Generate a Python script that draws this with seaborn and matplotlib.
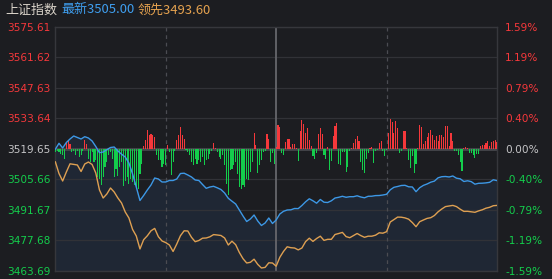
import matplotlib
matplotlib.use("Agg")
import matplotlib.pyplot as plt
import pandas as pd
import seaborn as sns

# ---------------- data ----------------
index_name = "上证指数"
prev_close = 3519.65
price_ticks = [3575.61, 3561.62, 3547.63, 3533.64, 3519.65, 3505.66, 3491.67, 3477.68, 3463.69]
price_labels = ["3575.61", "3561.62", "3547.63", "3533.64", "3519.65", "3505.66", "3491.67", "3477.68", "3463.69"]
pct_labels = ["1.59%", "1.19%", "0.79%", "0.40%", "0.00%", "-0.40%", "-0.79%", "-1.19%", "-1.59%"]

# minute of session (0 = 9:30, 120 = 11:30/13:00, 240 = 15:00), sampled every 2 minutes
line_minutes = list(range(0, 241, 2))

latest = [
    3519.40, 3522.15, 3520.00, 3522.52, 3524.13, 3525.51, 3524.82, 3524.13, 3525.19, 3524.59,
    3523.21, 3520.68, 3517.83, 3518.16, 3519.21, 3520.22, 3520.45, 3518.62, 3517.15, 3515.86,
    3513.10, 3508.05, 3502.07, 3495.87, 3498.16, 3500.69, 3502.99, 3506.21, 3505.75, 3504.37,
    3504.37, 3505.06, 3505.06, 3505.75, 3508.27, 3508.41, 3507.59, 3506.67, 3505.29, 3505.06,
    3503.22, 3501.47, 3502.07, 3502.39, 3501.70, 3500.92, 3499.31, 3496.88, 3495.54, 3494.26,
    3491.50, 3488.74, 3486.21, 3487.36, 3489.20, 3486.44, 3484.38, 3485.52, 3487.82, 3485.29,
    3486.90, 3489.66, 3490.90, 3491.50, 3491.59, 3492.19, 3492.14, 3493.57, 3495.27, 3496.65,
    3495.73, 3494.62, 3496.33, 3495.08, 3494.95, 3495.73, 3497.01, 3497.34, 3497.80, 3497.34,
    3497.61, 3497.61, 3498.03, 3497.47, 3497.11, 3497.80, 3497.84, 3498.12, 3498.16, 3498.39,
    3498.72, 3500.78, 3501.93, 3502.30, 3502.76, 3502.85, 3502.16, 3502.07, 3499.91, 3501.75,
    3502.81, 3503.45, 3504.28, 3504.78, 3506.30, 3506.80, 3506.90, 3506.67, 3507.13, 3506.11,
    3505.84, 3504.60, 3504.92, 3504.55, 3503.36, 3503.77, 3503.82, 3503.96, 3504.23, 3505.38,
    3505.00,
]

leading = [
    3513.70, 3508.27, 3504.83, 3508.96, 3512.73, 3512.46, 3512.18, 3509.19, 3512.64, 3513.56,
    3512.41, 3508.50, 3500.69, 3497.01, 3498.85, 3501.61, 3499.77, 3497.01, 3494.72, 3490.58,
    3487.82, 3482.54, 3479.55, 3473.58, 3477.85, 3479.64, 3481.94, 3483.04, 3479.23, 3477.25,
    3476.52, 3475.41, 3472.43, 3475.87, 3479.69, 3481.94, 3481.85, 3478.95, 3476.93, 3477.48,
    3478.54, 3478.63, 3479.18, 3480.19, 3480.01, 3479.78, 3478.63, 3475.41, 3477.16, 3475.55,
    3471.97, 3469.12, 3467.14, 3467.46, 3468.89, 3466.50, 3464.84, 3465.12, 3467.23, 3467.14,
    3465.67, 3469.76, 3472.47, 3474.59, 3474.17, 3474.03, 3473.16, 3474.03, 3476.98, 3478.54,
    3477.07, 3478.40, 3479.46, 3477.53, 3478.03, 3478.03, 3480.24, 3480.70, 3481.20, 3479.27,
    3478.77, 3479.73, 3480.70, 3479.73, 3478.95, 3479.46, 3479.46, 3479.92, 3481.02, 3480.84,
    3481.53, 3485.98, 3487.09, 3488.24, 3488.19, 3487.87, 3487.27, 3485.71, 3483.82, 3486.12,
    3486.90, 3487.64, 3487.96, 3488.97, 3490.67, 3491.96, 3493.06, 3493.34, 3493.61, 3493.06,
    3491.87, 3490.86, 3490.90, 3490.67, 3490.44, 3491.09, 3491.59, 3492.33, 3492.74, 3493.47,
    3493.60,
]

# one bar per minute (red/green strength bars around the previous close)
bar_minutes = list(range(241))
bar_values = [
    -3, -2, -3, -5, -6.7, -10, 6, 7.3, 5, -3.3,
    -2, -6, -2.7, -8, -6, -2, 8.3, 5, -10, -13,
    -3.3, -13, -11.7, -28, -30, -36, -28, -18, -13, -6.7,
    -3, -10, -28, -20, -27, -18, -13, -37, -32, -28,
    -35, -30, -33, -36, -38, -40, -25, -15, 2.7, 8.3,
    18.3, 13.3, 15, 14, 12, -6.7, -11.7, -11, -18, -15,
    -16.7, 3.3, -3.3, -26.7, -13, -2, 8.3, 13.3, 21.7, 13.3,
    10, -1.7, -3.3, -6.7, -13.3, -16.7, -10, -15, -11.7, -13.3,
    -8.3, -16.7, -11.7, -10, -5, -2, 5.7, 1, -3.3, -8.3,
    -10, -6.7, -16.7, -35, -46.7, -21.7, -20, -16.7, -13.3, -25,
    -38.3, -40, -36.7, -38.3, -30, -31.7, -23.3, -13.3, 16, 3.3,
    -24, -16.7, -11.7, -3.3, -2, 15, 10, -13.3, -4, -15,
    2, 24, 22, -4, -6, 7, 10, 10, 2, 5,
    5, 1, -12.7, 18, 29, 25, 16, 21, 9, 3,
    -7, -10, -4, 15, 21, 15, -6, -10, 1.5, -21,
    -12, 13, 23, 26, -15, -16.7, -3.3, -3.3, -23, -18,
    -2, 1, 6, 10, 12.5, 8, -13, -21.7, -24.3, -10,
    -4, 1, 2, -14.3, -2.7, -1.5, 5.7, 8, -2.7, -7.7,
    -1, 16, 30, 27, 16, 28, 21, -4.3, -2.7, 18,
    18, 1, -11, -19.3, -7.7, -24.3, -15.3, 1, 23.3, 21.3,
    4.7, 8, 11.3, 15.7, 19, 13.3, 9, 12.3, 7.3, 13.3,
    14, 11.3, 22.3, 22.3, 2.3, 15.7, 8, -2.7, -2, -6.7,
    -13.3, -22, 1, 1.3, 1, -4.3, -4.3, -6, -9.3, -5.3,
    -5.3, 2.3, 4, 3.3, 5.7, 8, 2.3, 6.7, 7.3, 9,
    6.7,
]

# ---------------- style ----------------
BG = "#1c1d21"
GRID = "#313237"
RED = "#f5383b"
GREEN = "#14cd4c"
BLUE = "#3d98e6"
ORANGE = "#dea052"
NEUTRAL = "#c4c4c6"

sns.set_theme(style="dark", rc={"axes.facecolor": BG, "figure.facecolor": BG})
plt.rcParams["font.family"] = ["DejaVu Sans"]

fig = plt.figure(figsize=(5.52, 2.79), dpi=100, facecolor=BG)
ax = fig.add_axes([55.3 / 552, 8.5 / 279, 441.7 / 552, 243.5 / 279])
ax.set_facecolor(BG)
ax.set_xlim(0, 240)
ax.set_ylim(price_ticks[-1], price_ticks[0])

# grid
for i, t in enumerate(price_ticks):
    if i == 4:
        ax.axhline(t, color="#46474c", lw=2.0, zorder=1)
    else:
        ax.axhline(t, color=GRID, lw=0.9, zorder=1)
for m in (60, 180):
    ax.axvline(m, color="#4b4c52", lw=0.9, ls=(0, (3, 3)), zorder=1)
ax.axvline(120, color="#66676c", lw=1.3, zorder=1)

# area under latest price
ax.fill_between(line_minutes, latest, price_ticks[-1], color="#1f2734", lw=0, zorder=0.5)

ax.set_yticks(price_ticks)
ax.set_yticklabels(price_labels)
ax.set_xticks([])
ax.tick_params(axis="y", length=0, pad=3.4, labelsize=7.6)
for i, lab in enumerate(ax.get_yticklabels()):
    lab.set_color(RED if i < 4 else (NEUTRAL if i == 4 else GREEN))
for s in ax.spines.values():
    s.set_color("#36373c")
    s.set_linewidth(1.0)
ax.grid(False)

# bars
axb = ax.twinx()
df_bar = pd.DataFrame({
    "minute": bar_minutes,
    "value": bar_values,
    "dir": ["up" if v > 0 else "down" for v in bar_values],
})
sns.barplot(data=df_bar, x="minute", y="value", hue="dir",
            palette={"up": RED, "down": GREEN}, native_scale=True, dodge=False,
            width=0.6, errorbar=None, legend=False, saturation=1,
            linewidth=0, edgecolor="none", antialiased=False, ax=axb)
axb.set_xlim(0, 240)
axb.set_ylim(-121.75, 121.75)
axb.set_yticks([])
axb.set_xticks([])
axb.set_xlabel("")
axb.set_ylabel("")
axb.grid(False)
for s in axb.spines.values():
    s.set_visible(False)

# lines
axl = ax.twinx()
axl.set_ylim(price_ticks[-1], price_ticks[0])
sns.lineplot(x=line_minutes, y=leading, color=ORANGE, lw=1.0, ax=axl)
sns.lineplot(x=line_minutes, y=latest, color=BLUE, lw=1.0, ax=axl)
axl.set_xlim(0, 240)
axl.set_yticks(price_ticks)
axl.set_yticklabels(pct_labels)
axl.set_xticks([])
axl.tick_params(axis="y", length=0, pad=5.8, labelsize=7.6)
for i, lab in enumerate(axl.get_yticklabels()):
    lab.set_color(RED if i < 4 else (NEUTRAL if i == 4 else GREEN))
axl.grid(False)
for s in axl.spines.values():
    s.set_visible(False)

# header
cjk = ["Noto Sans CJK SC", "DejaVu Sans"]
hy = 1 - 10 / 279
fig.text(5 / 552, hy, index_name, color="#d9d3c9", fontsize=9.4, family=cjk, va="center")
fig.text(61 / 552, hy, f"最新{latest[-1]:.2f}", color="#3f9ff0", fontsize=9.4, family=cjk, va="center")
fig.text(138 / 552, hy, f"领先{leading[-1]:.2f}", color="#e5a24f", fontsize=9.4, family=cjk, va="center")

fig.savefig("out.png", dpi=100, facecolor=BG)
